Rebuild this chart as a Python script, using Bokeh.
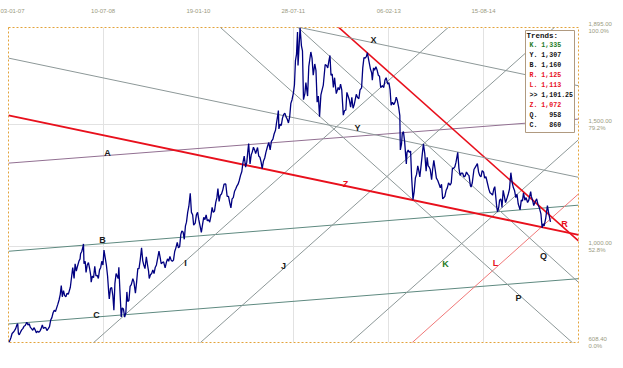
import pandas as pd
from bokeh.plotting import figure
from bokeh.models import ColumnDataSource, Range1d, FixedTicker, DatetimeTickFormatter
from bokeh.embed import file_html
from bokeh.resources import INLINE
from bokeh.core.properties import value

# ---------------- data: gold price (date, USD) ----------------
prices_2007 = [
    ("2007-01-03", 608.4), ("2007-01-10", 615), ("2007-01-17", 628), ("2007-01-24", 645), ("2007-01-31", 650),
    ("2007-02-07", 657), ("2007-02-14", 665), ("2007-02-21", 680), ("2007-02-26", 685), ("2007-03-02", 645),
    ("2007-03-07", 640), ("2007-03-14", 650), ("2007-03-21", 660), ("2007-03-28", 665), ("2007-04-04", 675),
    ("2007-04-11", 678), ("2007-04-20", 691), ("2007-04-27", 680), ("2007-05-04", 685), ("2007-05-11", 670),
    ("2007-05-18", 665), ("2007-05-25", 658), ("2007-06-01", 669), ("2007-06-08", 660), ("2007-06-15", 648),
    ("2007-06-22", 655), ("2007-06-29", 650), ("2007-07-06", 655), ("2007-07-13", 665), ("2007-07-20", 680),
    ("2007-07-27", 665), ("2007-08-03", 670), ("2007-08-10", 668), ("2007-08-16", 657), ("2007-08-24", 665),
    ("2007-08-31", 673), ("2007-09-07", 700), ("2007-09-14", 710), ("2007-09-21", 730), ("2007-09-28", 740),
    ("2007-10-05", 735), ("2007-10-12", 750), ("2007-10-19", 765), ("2007-10-26", 782), ("2007-11-02", 805),
    ("2007-11-08", 841), ("2007-11-14", 795), ("2007-11-21", 820), ("2007-11-28", 800), ("2007-12-05", 795),
    ("2007-12-12", 810), ("2007-12-19", 805), ("2007-12-31", 834),
]
prices_2008 = [
    ("2008-01-08", 880), ("2008-01-14", 914), ("2008-01-22", 870), ("2008-01-28", 930), ("2008-02-04", 900),
    ("2008-02-11", 920), ("2008-02-19", 940), ("2008-02-26", 950), ("2008-02-29", 971), ("2008-03-07", 980),
    ("2008-03-14", 1000), ("2008-03-17", 1011), ("2008-03-20", 930), ("2008-03-27", 940), ("2008-04-01", 895),
    ("2008-04-08", 925), ("2008-04-15", 935), ("2008-04-22", 910), ("2008-04-29", 880), ("2008-05-01", 855),
    ("2008-05-08", 880), ("2008-05-15", 873), ("2008-05-22", 920), ("2008-05-29", 880), ("2008-06-05", 883),
    ("2008-06-12", 870), ("2008-06-19", 905), ("2008-06-26", 915), ("2008-07-02", 940), ("2008-07-09", 925),
    ("2008-07-15", 986), ("2008-07-22", 955), ("2008-07-29", 925), ("2008-08-05", 880), ("2008-08-12", 810),
    ("2008-08-15", 786), ("2008-08-22", 830), ("2008-08-29", 833), ("2008-09-05", 800), ("2008-09-11", 740),
    ("2008-09-17", 850), ("2008-09-24", 890), ("2008-09-30", 880), ("2008-10-06", 870), ("2008-10-10", 916),
    ("2008-10-16", 825), ("2008-10-24", 713), ("2008-10-30", 750), ("2008-11-06", 745), ("2008-11-13", 712),
    ("2008-11-20", 730), ("2008-11-26", 815), ("2008-12-01", 776), ("2008-12-08", 780), ("2008-12-15", 838),
    ("2008-12-22", 845), ("2008-12-31", 869),
]
prices_2009 = [
    ("2009-01-06", 857), ("2009-01-15", 810), ("2009-01-22", 855), ("2009-01-29", 910), ("2009-02-05", 910),
    ("2009-02-12", 945), ("2009-02-20", 995), ("2009-02-27", 942), ("2009-03-05", 925), ("2009-03-12", 910),
    ("2009-03-20", 958), ("2009-03-27", 925), ("2009-04-02", 900), ("2009-04-06", 870), ("2009-04-13", 885),
    ("2009-04-20", 890), ("2009-04-27", 905), ("2009-05-04", 890), ("2009-05-11", 915), ("2009-05-18", 925),
    ("2009-05-26", 955), ("2009-06-02", 982), ("2009-06-09", 955), ("2009-06-15", 930), ("2009-06-22", 935),
    ("2009-06-29", 938), ("2009-07-08", 913), ("2009-07-15", 935), ("2009-07-22", 950), ("2009-07-29", 940),
    ("2009-08-05", 960), ("2009-08-12", 945), ("2009-08-19", 940), ("2009-08-26", 945), ("2009-09-02", 980),
    ("2009-09-09", 995), ("2009-09-17", 1017), ("2009-09-24", 995), ("2009-10-01", 1000), ("2009-10-08", 1050),
    ("2009-10-14", 1064), ("2009-10-21", 1060), ("2009-10-28", 1030), ("2009-11-04", 1085), ("2009-11-10", 1100),
    ("2009-11-17", 1140), ("2009-11-24", 1165), ("2009-12-02", 1218), ("2009-12-09", 1140), ("2009-12-16", 1130),
    ("2009-12-22", 1088), ("2009-12-31", 1096),
]
prices_2010 = [
    ("2010-01-07", 1130), ("2010-01-14", 1140), ("2010-01-21", 1110), ("2010-01-29", 1083), ("2010-02-05", 1058),
    ("2010-02-12", 1090), ("2010-02-19", 1120), ("2010-02-26", 1110), ("2010-03-05", 1130), ("2010-03-12", 1105),
    ("2010-03-19", 1110), ("2010-03-26", 1100), ("2010-04-02", 1125), ("2010-04-09", 1160), ("2010-04-16", 1140),
    ("2010-04-23", 1145), ("2010-04-30", 1180), ("2010-05-07", 1200), ("2010-05-13", 1237), ("2010-05-20", 1185),
    ("2010-05-27", 1210), ("2010-06-03", 1215), ("2010-06-10", 1230), ("2010-06-18", 1255), ("2010-06-28", 1256),
    ("2010-07-06", 1205), ("2010-07-14", 1205), ("2010-07-21", 1180), ("2010-07-28", 1158), ("2010-08-04", 1195),
    ("2010-08-11", 1200), ("2010-08-18", 1225), ("2010-08-25", 1235), ("2010-08-31", 1246), ("2010-09-08", 1255),
    ("2010-09-15", 1270), ("2010-09-22", 1290), ("2010-09-30", 1307), ("2010-10-07", 1345), ("2010-10-14", 1370),
    ("2010-10-22", 1325), ("2010-10-29", 1345), ("2010-11-05", 1395), ("2010-11-09", 1421), ("2010-11-17", 1338),
    ("2010-11-24", 1375), ("2010-11-30", 1386), ("2010-12-07", 1406), ("2010-12-14", 1395), ("2010-12-20", 1380),
    ("2010-12-31", 1405),
]
prices_2011 = [
    ("2011-01-07", 1370), ("2011-01-14", 1365), ("2011-01-21", 1345), ("2011-01-27", 1319), ("2011-02-04", 1350),
    ("2011-02-11", 1362), ("2011-02-18", 1385), ("2011-02-28", 1411), ("2011-03-07", 1425), ("2011-03-15", 1395),
    ("2011-03-22", 1430), ("2011-03-31", 1439), ("2011-04-07", 1460), ("2011-04-15", 1475), ("2011-04-21", 1505),
    ("2011-04-28", 1535), ("2011-05-02", 1556), ("2011-05-05", 1481), ("2011-05-12", 1500), ("2011-05-19", 1495),
    ("2011-05-26", 1525), ("2011-06-02", 1540), ("2011-06-09", 1545), ("2011-06-16", 1530), ("2011-06-23", 1520),
    ("2011-06-30", 1505), ("2011-07-07", 1530), ("2011-07-14", 1585), ("2011-07-21", 1600), ("2011-07-29", 1628),
    ("2011-08-04", 1660), ("2011-08-10", 1760), ("2011-08-16", 1785), ("2011-08-22", 1877), ("2011-08-25", 1740),
    ("2011-08-31", 1815), ("2011-09-06", 1895), ("2011-09-14", 1820), ("2011-09-20", 1800), ("2011-09-26", 1600),
    ("2011-10-04", 1625), ("2011-10-10", 1670), ("2011-10-20", 1615), ("2011-10-27", 1735), ("2011-11-08", 1795),
    ("2011-11-15", 1770), ("2011-11-22", 1700), ("2011-12-01", 1746), ("2011-12-08", 1720), ("2011-12-15", 1590),
    ("2011-12-22", 1615), ("2011-12-29", 1531),
]
prices_2012 = [
    ("2012-01-06", 1620), ("2012-01-13", 1640), ("2012-01-20", 1660), ("2012-01-31", 1744), ("2012-02-08", 1740),
    ("2012-02-15", 1730), ("2012-02-22", 1760), ("2012-02-28", 1781), ("2012-03-05", 1700), ("2012-03-12", 1705),
    ("2012-03-19", 1650), ("2012-03-26", 1690), ("2012-03-30", 1662), ("2012-04-05", 1625), ("2012-04-16", 1650),
    ("2012-04-23", 1640), ("2012-04-30", 1664), ("2012-05-07", 1640), ("2012-05-16", 1537), ("2012-05-23", 1555),
    ("2012-05-31", 1558), ("2012-06-06", 1630), ("2012-06-13", 1615), ("2012-06-20", 1600), ("2012-06-28", 1570),
    ("2012-07-05", 1610), ("2012-07-12", 1565), ("2012-07-19", 1580), ("2012-07-31", 1622), ("2012-08-07", 1610),
    ("2012-08-15", 1604), ("2012-08-22", 1640), ("2012-08-31", 1648), ("2012-09-07", 1730), ("2012-09-14", 1772),
    ("2012-09-21", 1770), ("2012-09-28", 1776), ("2012-10-04", 1792), ("2012-10-11", 1765), ("2012-10-22", 1725),
    ("2012-10-29", 1710), ("2012-11-02", 1680), ("2012-11-09", 1730), ("2012-11-15", 1720), ("2012-11-23", 1735),
    ("2012-11-30", 1721), ("2012-12-07", 1700), ("2012-12-14", 1696), ("2012-12-21", 1650), ("2012-12-31", 1657),
]
prices_2013 = [
    ("2013-01-08", 1650), ("2013-01-15", 1680), ("2013-01-22", 1690), ("2013-01-31", 1664), ("2013-02-07", 1670),
    ("2013-02-14", 1640), ("2013-02-20", 1578), ("2013-02-28", 1590), ("2013-03-07", 1580), ("2013-03-15", 1590),
    ("2013-03-22", 1610), ("2013-03-28", 1598), ("2013-04-05", 1570), ("2013-04-12", 1535), ("2013-04-15", 1395),
    ("2013-04-22", 1420), ("2013-04-26", 1460), ("2013-05-03", 1470), ("2013-05-10", 1430), ("2013-05-20", 1338),
    ("2013-05-24", 1385), ("2013-05-31", 1394), ("2013-06-07", 1385), ("2013-06-14", 1390), ("2013-06-20", 1285),
    ("2013-06-28", 1192), ("2013-07-05", 1225), ("2013-07-12", 1280), ("2013-07-19", 1295), ("2013-07-26", 1330),
    ("2013-07-31", 1314), ("2013-08-07", 1285), ("2013-08-15", 1335), ("2013-08-21", 1375), ("2013-08-28", 1420),
    ("2013-09-05", 1380), ("2013-09-13", 1308), ("2013-09-19", 1365), ("2013-09-25", 1330), ("2013-09-30", 1326),
    ("2013-10-07", 1315), ("2013-10-15", 1273), ("2013-10-21", 1315), ("2013-10-28", 1352), ("2013-11-05", 1315),
    ("2013-11-12", 1280), ("2013-11-20", 1270), ("2013-11-29", 1253), ("2013-12-05", 1240), ("2013-12-12", 1255),
    ("2013-12-19", 1195), ("2013-12-31", 1204),
]
prices_2014 = [
    ("2014-01-08", 1230), ("2014-01-15", 1240), ("2014-01-22", 1260), ("2014-01-31", 1251), ("2014-02-07", 1260),
    ("2014-02-14", 1320), ("2014-02-21", 1320), ("2014-02-28", 1326), ("2014-03-07", 1345), ("2014-03-17", 1385),
    ("2014-03-24", 1320), ("2014-03-31", 1291), ("2014-04-07", 1300), ("2014-04-15", 1300), ("2014-04-22", 1285),
    ("2014-04-30", 1289), ("2014-05-07", 1305), ("2014-05-15", 1295), ("2014-05-22", 1290), ("2014-05-30", 1250),
    ("2014-06-03", 1243), ("2014-06-10", 1260), ("2014-06-20", 1315), ("2014-06-30", 1327), ("2014-07-10", 1339),
    ("2014-07-17", 1305), ("2014-07-24", 1290), ("2014-07-31", 1285), ("2014-08-07", 1310), ("2014-08-15", 1305),
    ("2014-08-22", 1280), ("2014-08-29", 1286), ("2014-09-05", 1265), ("2014-09-15", 1235), ("2014-09-22", 1220),
    ("2014-09-30", 1216), ("2014-10-07", 1210), ("2014-10-14", 1235), ("2014-10-20", 1245), ("2014-10-31", 1164),
    ("2014-11-05", 1142), ("2014-11-12", 1160), ("2014-11-17", 1190), ("2014-11-24", 1195), ("2014-11-28", 1182),
    ("2014-12-01", 1160), ("2014-12-08", 1230), ("2014-12-15", 1205), ("2014-12-22", 1180), ("2014-12-31", 1199),
]
prices_2015 = [
    ("2015-01-07", 1215), ("2015-01-14", 1235), ("2015-01-22", 1302), ("2015-01-30", 1260), ("2015-02-06", 1240),
    ("2015-02-13", 1228), ("2015-02-20", 1200), ("2015-02-27", 1214), ("2015-03-06", 1175), ("2015-03-17", 1150),
    ("2015-03-24", 1190), ("2015-03-31", 1187), ("2015-04-06", 1220), ("2015-04-14", 1190), ("2015-04-21", 1200),
    ("2015-04-30", 1180), ("2015-05-07", 1190), ("2015-05-18", 1225), ("2015-05-22", 1205), ("2015-05-29", 1190),
    ("2015-06-05", 1168), ("2015-06-15", 1185), ("2015-06-22", 1195), ("2015-06-30", 1171), ("2015-07-07", 1160),
    ("2015-07-17", 1134), ("2015-07-24", 1077), ("2015-07-31", 1094), ("2015-08-05", 1085), ("2015-08-14", 1115),
    ("2015-08-24", 1168), ("2015-09-01", 1135), ("2015-09-11", 1101.25),
]

# trend lines, each through two (date, price) points
line_names = ["A", "B", "C", "I", "J", "K", "L", "P", "Q", "R", "X", "Y", "Z"]
line_date1 = ["2007-01-03", "2007-01-03", "2007-01-03", "2008-05-16", "2010-01-31", "2012-06-27", "2013-06-24",
              "2010-05-28", "2011-08-25", "2012-04-20", "2011-09-06", "2007-01-03", "2007-01-03"]
line_price1 = [1341, 981, 684, 608.4, 608.4, 608.4, 608.4, 1895, 1895, 1895, 1895, 1770, 1536]
line_date2 = ["2015-09-11", "2015-09-11", "2015-09-11", "2014-01-20", "2015-10-03", "2015-09-11", "2015-09-11",
              "2016-01-16", "2015-09-11", "2015-09-11", "2015-09-11", "2015-09-11", "2015-09-11"]
line_price2 = [1512, 1160, 860, 1895, 1895, 1335, 1113, 608.4, 958, 1125, 1681, 1307, 1072]

# trends box
trend_labels = ["K.", "Y.", "B.", "R.", "L.", ">>", "Z.", "Q.", "C."]
trend_values = ["1,335", "1,307", "1,160", "1,125", "1,113", "1,101.25", "1,072", "958", "860"]

# axes
x_tick_dates = ["2007-01-03", "2008-07-10", "2010-01-19", "2011-07-28", "2013-02-06", "2014-08-15"]
y_tick_values = [608.40, 1000.0, 1500.0, 1895.0]
y_tick_text = ["608.40", "1,000.00", "1,500.00", "1,895.00"]
y_tick_pct = ["0.0%", "52.8%", "79.2%", "100.0%"]

# ---------------- layout / style ----------------
X_START, X_END = "2007-01-03", "2016-02-22"
Y_MIN, Y_MAX = 608.4, 1895.0
FIG_W, FIG_H = 623, 368
FRAME_LEFT, FRAME_TOP = 8, 27
FRAME_W, FRAME_H = 570, 315

def ms(s):
    return pd.Timestamp(s).value / 1e6

x0, x1 = ms(X_START), ms(X_END)

def px_x(px):
    return x0 + (px - FRAME_LEFT) / FRAME_W * (x1 - x0)

def px_y(py):
    return Y_MAX - (py - FRAME_TOP) / FRAME_H * (Y_MAX - Y_MIN)

line_colors = {
    "A": "#927092", "B": "#5f8a80", "C": "#5f8a80",
    "I": "#8d9898", "J": "#8d9898", "K": "#8d9898", "P": "#8d9898", "Q": "#8d9898",
    "X": "#8d9898", "Y": "#8d9898",
    "L": "#f07878", "R": "#e8101c", "Z": "#e8101c",
}
line_widths = {"Z": 2.0, "R": 1.6}

label_colors = {"K": "#1d7a1d", "L": "#e8101c", "R": "#e8101c", "Z": "#e8101c"}
label_pos = {  # page pixel anchors for the letter labels
    "A": (107, 152), "B": (102, 239), "C": (96, 314), "I": (185, 262), "J": (283, 265),
    "K": (445, 263), "L": (495, 262), "P": (518, 297), "Q": (543, 255), "R": (564, 223),
    "X": (373, 39), "Y": (357, 127), "Z": (345, 183),
}

p = figure(width=FIG_W, height=FIG_H, x_axis_type="datetime", x_axis_location="above",
           y_axis_location="right", output_backend="svg", toolbar_location=None,
           x_range=Range1d(x0, x1), y_range=Range1d(Y_MIN, Y_MAX),
           min_border_left=FRAME_LEFT, min_border_top=FRAME_TOP,
           min_border_right=FIG_W - FRAME_LEFT - FRAME_W,
           min_border_bottom=FIG_H - FRAME_TOP - FRAME_H)
p.background_fill_color = "white"
p.border_fill_color = "white"
p.outline_line_color = "#e3a33a"
p.outline_line_dash = "2 2"
p.outline_line_width = 1

# grid
xt = FixedTicker(ticks=[ms(d) for d in x_tick_dates])
p.xgrid.ticker = xt
p.ygrid.ticker = FixedTicker(ticks=[1000.0, 1500.0])
p.grid.grid_line_color = "#e2e2e2"
p.grid.grid_line_width = 1

# x axis (top)
xa = p.xaxis[0]
xa.ticker = xt
fmt = "%d-%m-%y"
xa.formatter = DatetimeTickFormatter(days=fmt, months=fmt, years=fmt, hours=fmt, hourmin=fmt,
                                     minutes=fmt, minsec=fmt, seconds=fmt, milliseconds=fmt)
xa.axis_line_color = None
xa.major_tick_line_color = None
xa.minor_tick_line_color = None
xa.major_label_text_font = "Liberation Sans"
xa.major_label_text_font_size = "6px"
xa.major_label_text_color = "#9a9a80"
xa.major_label_text_align = "left"
xa.major_label_standoff = 9

# y axis (right)
ya = p.yaxis[0]
ya.ticker = FixedTicker(ticks=y_tick_values)
ya.major_label_overrides = {v: f"{t}\n{q}" for v, t, q in zip(y_tick_values, y_tick_text, y_tick_pct)}
ya.axis_line_color = None
ya.major_tick_line_color = None
ya.minor_tick_line_color = None
ya.major_label_text_font = "Liberation Sans"
ya.major_label_text_font_size = "6px"
ya.major_label_text_color = "#9a9a80"
ya.major_label_text_align = "left"
ya.major_label_standoff = 4

# trend lines extended over the whole x range
seg = dict(x0=[], y0=[], x1=[], y1=[], c=[], w=[])
for n, d1, p1, d2, p2 in zip(line_names, line_date1, line_price1, line_date2, line_price2):
    t1, t2 = ms(d1), ms(d2)
    k = (p2 - p1) / (t2 - t1)
    seg["x0"].append(x0); seg["y0"].append(p1 + k * (x0 - t1))
    seg["x1"].append(x1); seg["y1"].append(p1 + k * (x1 - t1))
    seg["c"].append(line_colors[n]); seg["w"].append(line_widths.get(n, 1.0))
p.segment(x0="x0", y0="y0", x1="x1", y1="y1", line_color="c", line_width="w",
          source=ColumnDataSource(seg))

# price line
all_prices = prices_2007 + prices_2008 + prices_2009 + prices_2010 + prices_2011 + \
    prices_2012 + prices_2013 + prices_2014 + prices_2015
p.line(x=[ms(d) for d, _ in all_prices], y=[v for _, v in all_prices],
       line_color="#000080", line_width=1.3)

# letter labels
lab = dict(x=[], y=[], t=[], c=[])
for n in line_names:
    px, py = label_pos[n]
    lab["x"].append(px_x(px)); lab["y"].append(px_y(py)); lab["t"].append(n)
    lab["c"].append(label_colors.get(n, "#1a1a1a"))
p.text(x="x", y="y", text="t", text_color="c", source=ColumnDataSource(lab),
       text_font=value("Liberation Sans"), text_font_style="bold", text_font_size="9px",
       text_align="center", text_baseline="middle")

# trends box
p.quad(left=px_x(525), right=px_x(574), top=px_y(30), bottom=px_y(132),
       fill_color="white", line_color="#b09a80", line_width=1)
p.text(x=[px_x(526)], y=[px_y(35)], text=["Trends:"], text_color="#111111",
       text_font=value("Liberation Mono"), text_font_style="bold", text_font_size="7.5px",
       text_align="left", text_baseline="middle")
trend_colors = {"K.": "#1d7a1d", "R.": "#e8101c", "L.": "#e8101c", "Z.": "#e8101c"}
NBSP = "\u00a0"
tb = dict(x=[], y=[], t=[], c=[])
for i, (lb, v) in enumerate(zip(trend_labels, trend_values)):
    pad = NBSP * max(1, 6 - len(v))  # right-align short values under the thousands
    tb["x"].append(px_x(529)); tb["y"].append(px_y(44.5 + 10.1 * i))
    tb["t"].append(f"{lb}{pad}{v}"); tb["c"].append(trend_colors.get(lb, "#111111"))
p.text(x="x", y="y", text="t", text_color="c", source=ColumnDataSource(tb),
       text_font=value("Liberation Mono"), text_font_style="bold", text_font_size="6.6px",
       text_align="left", text_baseline="middle")

open("out.html", "w").write(file_html(p, INLINE))
